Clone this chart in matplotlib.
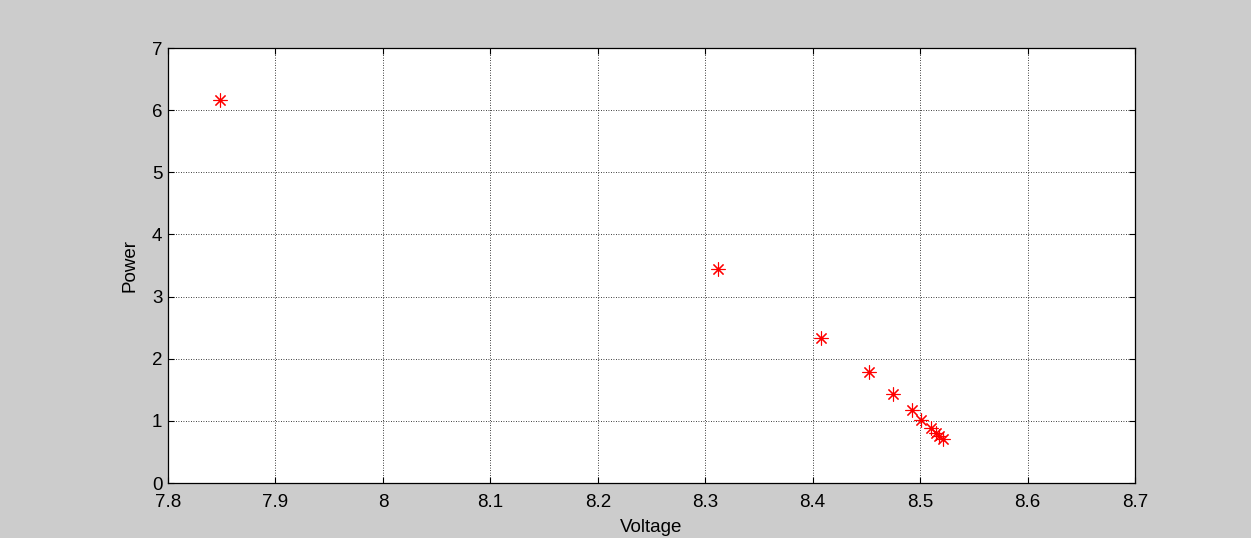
import matplotlib
matplotlib.use("Agg")
import matplotlib.pyplot as plt

voltage = [7.848, 8.312, 8.408, 8.452, 8.475, 8.492, 8.501, 8.510, 8.515, 8.518, 8.521]
power = [6.17, 3.44, 2.34, 1.79, 1.43, 1.18, 1.02, 0.89, 0.81, 0.76, 0.71]
xticks = [7.8, 7.9, 8.0, 8.1, 8.2, 8.3, 8.4, 8.5, 8.6, 8.7]
xticklabels = ["7.8", "7.9", "8", "8.1", "8.2", "8.3", "8.4", "8.5", "8.6", "8.7"]
yticks = [0, 1, 2, 3, 4, 5, 6, 7]

plt.rcParams['font.family'] = ['Liberation Sans', 'DejaVu Sans']
fig = plt.figure(figsize=(12.51, 5.38), dpi=100, facecolor='#cccccc')
ax = fig.add_axes([168/1251, 55/538, (1135-168)/1251, (483-48)/538])
ax.plot(voltage, power, linestyle='none', marker=(8, 2, 0), color='red',
        markersize=10, markeredgewidth=0.8)
ax.set_xlim(7.8, 8.7)
ax.set_ylim(0, 7)
ax.set_xticks(xticks)
ax.set_xticklabels(xticklabels)
ax.set_yticks(yticks)
ax.grid(True, color='black', linestyle=(0, (1, 2)), linewidth=0.6)
ax.tick_params(direction='in', top=True, right=True, labelsize=13.5, length=4, width=0.8)
ax.tick_params(axis='x', pad=8)
ax.tick_params(axis='y', pad=4)
for s in ax.spines.values():
    s.set_linewidth(0.9)
ax.set_xlabel('Voltage', fontsize=13.5, labelpad=6)
ax.set_ylabel('Power', fontsize=13.5, labelpad=10)
fig.savefig('out.png', dpi=100, facecolor=fig.get_facecolor())
